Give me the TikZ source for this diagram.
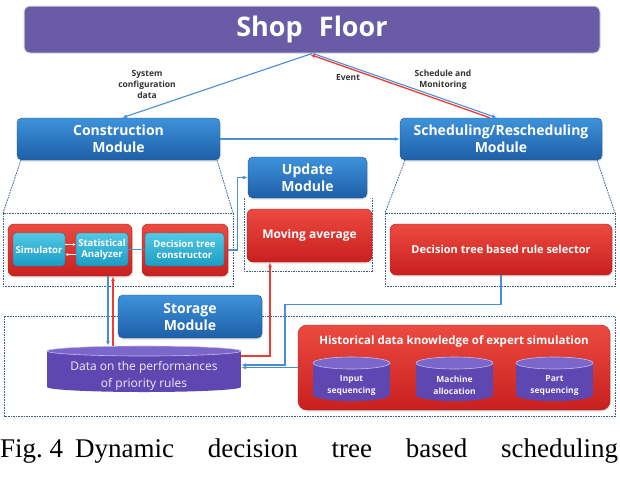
\documentclass[tikz,border=0pt]{standalone}
\usepackage{fontspec}
\setmainfont{Liberation Serif}
\newfontfamily\uif{Open Sans}
\usetikzlibrary{arrows.meta,shadows}
\definecolor{shopc}{HTML}{6A5BA7}
\definecolor{modtop}{HTML}{3E92DA}
\definecolor{modbot}{HTML}{1D5FA8}
\definecolor{redtop}{HTML}{EC4A40}
\definecolor{redbot}{HTML}{C8201F}
\definecolor{cyantop}{HTML}{52C8E4}
\definecolor{cyanbot}{HTML}{1C9CC4}
\definecolor{cyltopc}{HTML}{7B67CB}
\definecolor{cylbodyc}{HTML}{5E47B1}
\definecolor{dashc}{HTML}{3A5C94}
\definecolor{linec}{HTML}{4A8FD4}
\definecolor{redl}{HTML}{EE3B33}
\newcommand\drawcyl[5]{% cx, topy, boty, halfwidth, ry
  \fill[cylbodyc] (#1-#4,#2) rectangle (#1+#4,#3);
  \fill[cylbodyc] (#1,#3) ellipse [x radius=#4pt, y radius=#5pt];
  \filldraw[fill=cyltopc, draw=white!55!cyltopc, line width=0.6pt] (#1,#2) ellipse [x radius=#4pt, y radius=#5pt];
}
\tikzset{
  modbox/.style={rounded corners=5pt, top color=modtop, bottom color=modbot, draw=modbot!85!black, line width=0.4pt,
    text=white, font=\uif\bfseries\fontsize{14}{17}\selectfont, align=center, inner sep=0pt,
    drop shadow={opacity=0.25, shadow xshift=1pt, shadow yshift=-1.5pt}},
  redbox/.style={rounded corners=6pt, top color=redtop, bottom color=redbot, draw=redbot!85!black, line width=0.4pt,
    text=white, font=\uif\bfseries\fontsize{11}{13}\selectfont, align=center, inner sep=0pt,
    drop shadow={opacity=0.25, shadow xshift=1pt, shadow yshift=-1.5pt}},
  cybox/.style={rounded corners=3pt, top color=cyantop, bottom color=cyanbot, draw=cyanbot!75!black, line width=0.4pt,
    text=white, font=\uif\bfseries\fontsize{9.5}{11.5}\selectfont, align=center, inner sep=0pt},
  dashbox/.style={draw=dashc, line width=0.8pt, dash pattern=on 1.6pt off 1pt},
  conn/.style={draw=linec, line width=1.1pt, -{Latex[length=5pt,width=4pt]}},
  redconn/.style={draw=redl, line width=1.3pt, -{Latex[length=5pt,width=4pt]}},
  lbl/.style={font=\uif\bfseries\fontsize{8.5}{11}\selectfont, text=black!80, align=center, inner sep=0pt},
  cyltext/.style={font=\uif\bfseries\fontsize{8.5}{12}\selectfont, text=white!92!cyltopc, align=center, inner sep=0pt},
}
\begin{document}
\begin{tikzpicture}[x=1pt,y=-1pt]
\useasboundingbox[fill=white] (0,0) rectangle (620,483);

% dashed frames
\draw[dashbox] (21,160) -- (3,213) (217,160) -- (233,213);
\draw[dashbox] (3,213) rectangle (233,286);
\draw[dashbox] (405,160) -- (385,213) (597,160) -- (615,213);
\draw[dashbox] (385,213) rectangle (615,286);
\draw[dashbox] (244,198) -- (244,271) -- (372,271) -- (372,198);
\draw[dashbox] (4,316) rectangle (615,416);

% top
\node[rounded corners=6pt, fill=shopc, draw=black!15, line width=1pt, minimum width=576pt, minimum height=47pt,
  text=white, font=\uif\bfseries\fontsize{27}{30}\selectfont, inner sep=0pt] (shop) at (312,29.5) {Shop\hspace{0.6em}Floor};

\node[modbox, minimum width=203pt, minimum height=42pt] (constr) at (118.5,139) {Construction\\Module};
\node[modbox, minimum width=202pt, minimum height=42pt] (sched) at (501,139) {Scheduling/Rescheduling\\Module};
\node[modbox, minimum width=119pt, minimum height=41pt] (update) at (307.5,177.5) {Update\\Module};

\node[lbl] (lsys) at (147,84) {System\\configuration\\data};
\node[lbl] (levent) at (348,78) {Event};
\node[lbl] (lsched) at (443,80) {Schedule and\\Monitoring};

\draw[conn] (shop.south) -- ([xshift=3.5pt]constr.north);
\draw[conn] ([xshift=1pt]shop.south) -- ([xshift=-4pt]sched.north);
\draw[redconn] ([xshift=-11pt]sched.north) -- ([xshift=-2pt,yshift=-1pt]shop.south);
\draw[conn] (constr.east) -- (sched.west);

% construction content
\node[redbox, minimum width=124pt, minimum height=52pt] (box1) at (70,250) {};
\node[redbox, minimum width=86pt, minimum height=52pt] (box2) at (185,250) {};
\node[cybox, minimum width=52pt, minimum height=33pt] (sim) at (39,249.5) {Simulator};
\node[cybox, minimum width=52pt, minimum height=33pt] (stat) at (102,249.5) {Statistical\\Analyzer};
\node[cybox, minimum width=79pt, minimum height=33pt] (dtc) at (184.5,249.5) {Decision tree\\constructor};
\draw[white, line width=0.9pt, -{Latex[length=3pt,width=3pt]}] ([yshift=5pt]sim.east) -- ([yshift=5pt]stat.west);
\draw[white, line width=0.9pt, {Latex[length=3pt,width=3pt]}-] ([yshift=-5pt]sim.east) -- ([yshift=-5pt]stat.west);
\draw[linec, line width=0.8pt] (stat.east) -- (dtc.west);

% update content
\node[redbox, font=\uif\bfseries\fontsize{12}{14}\selectfont, minimum width=125pt, minimum height=53pt] (mavg) at (309.5,235.5) {Moving average};
\draw[conn] (box2.east) -- ++(9,0) |- (update.west);

% scheduling content
\node[redbox, minimum width=222pt, minimum height=51pt] (selector) at (501,249.5) {Decision tree based rule selector};

% storage
\node[modbox, minimum width=144pt, minimum height=43pt] (storage) at (190,316.5) {Storage\\Module};

% data cylinder
\drawcyl{144}{351}{387}{97}{5}
\node[minimum width=194pt, minimum height=46pt, inner sep=0pt] (data) at (144,369) {};
\node[font=\uif\fontsize{12}{17}\selectfont, text=white!88!cyltopc, align=center, inner sep=0pt] (datatext) at (144,376) {Data on the performances\\of priority rules};

% historical
\node[redbox, rounded corners=9pt, minimum width=312pt, minimum height=85pt] (hist) at (454,367.5) {};
\node[font=\uif\bfseries\fontsize{11.5}{13}\selectfont, text=white, inner sep=0pt] (histtitle) at (454,341) {Historical data knowledge of expert simulation};
\drawcyl{351.5}{363}{395}{38.5}{6}
\drawcyl{454.5}{363}{395}{38.5}{6}
\drawcyl{554.5}{363}{395}{38.5}{6}
\node[cyltext] (inp) at (351.5,385) {Input\\sequencing};
\node[cyltext] (mach) at (454.5,385) {Machine\\allocation};
\node[cyltext] (part) at (554.5,385) {Part\\sequencing};

% connectors to / from data
\draw[conn] ([xshift=38pt]box1.south) -- ([xshift=-36pt]data.north);
\draw[redconn] ([xshift=-31pt]data.north) -- ([xshift=43pt]box1.south);
\draw[redconn] ([yshift=13pt]data.east) -| ([xshift=-39.5pt]mavg.south);
\draw[conn] (selector.south) -- ++(0,29) -- ++(-216,0) |- ([yshift=4pt]data.east);
\draw[conn] (hist.west) -- (hist.west -| data.east);

% caption
\node[anchor=base west, inner sep=0pt, font=\fontsize{27}{30}\selectfont] (caption) at (0,457)
  {\makebox[618pt][l]{Fig.~4\hspace{12pt}Dynamic\hfill decision\hfill tree\hfill based\hfill scheduling}};
\end{tikzpicture}
\end{document}
